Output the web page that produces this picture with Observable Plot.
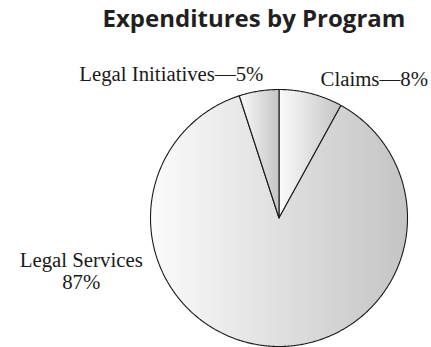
<!DOCTYPE html>
<html>
<head>
<meta charset="utf-8">
<script src="https://cdn.jsdelivr.net/npm/d3@7"></script>
<script src="https://cdn.jsdelivr.net/npm/@observablehq/plot@0.6"></script>
<style>
  html, body { margin: 0; padding: 0; background: #fff; }
  svg { display: block; }
</style>
</head>
<body>
<div id="chart"></div>
<script>
// ---- data ----
const categories = ["Claims", "Legal Services", "Legal Initiatives"];
const shares = [8, 87, 5];
const labelLines = [["Claims—8%"], ["Legal Services", "87%"], ["Legal Initiatives—5%"]];
const titleText = "Expenditures by Program";

// ---- layout (unit = pie radius) ----
const W = 431, H = 347;
const cx = 278.5, cy = 217.5, R = 128.5;
const xDomain = [-cx / R, (W - cx) / R];
const yDomain = [-(H - cy) / R, cy / R];
// label anchor positions (baseline of last line) in pie-radius units
const labelPos = [
  {x: 0.323, y: 1.031, anchor: "start"},
  {x: -1.539, y: -0.551, anchor: "middle"},
  {x: -0.121, y: 1.070, anchor: "end"}
];
const titlePos = {x: -0.195, y: 1.4825};

const pie = d3.pie().sort(null).value(d => d)(shares);
const slicePts = [];
pie.forEach((p, i) => {
  const n = Math.max(4, Math.ceil((p.endAngle - p.startAngle) / (Math.PI / 360)));
  slicePts.push({k: categories[i], x: 0, y: 0});
  for (let j = 0; j <= n; j++) {
    const a = p.startAngle + (p.endAngle - p.startAngle) * j / n;
    slicePts.push({k: categories[i], x: Math.sin(a), y: Math.cos(a)});
  }
  slicePts.push({k: categories[i], x: 0, y: 0});
});

const labels = labelLines.map((lines, i) => ({text: lines.join("\n"), ...labelPos[i]}));

const labelStyle = {x: "x", y: "y", text: "text", lineAnchor: "bottom", fontFamily: "Liberation Serif", fontSize: 20.8, fill: "#1a1a1a", lineHeight: 1.06};

const chart = Plot.plot({
  width: W, height: H,
  margin: 0,
  x: {domain: xDomain, axis: null},
  y: {domain: yDomain, axis: null},
  marks: [
    Plot.line(slicePts, {x: "x", y: "y", z: "k", fill: "url(#sliceGrad)", stroke: "#1a1a1a", strokeWidth: 1.1, strokeLinejoin: "round"}),
    Plot.text(labels.filter(d => d.anchor === "start"), {...labelStyle, textAnchor: "start"}),
    Plot.text(labels.filter(d => d.anchor === "middle"), {...labelStyle, textAnchor: "middle"}),
    Plot.text(labels.filter(d => d.anchor === "end"), {...labelStyle, textAnchor: "end"}),
    Plot.text([titleText], {x: titlePos.x, y: titlePos.y, text: d => d, textAnchor: "middle", lineAnchor: "bottom", fontFamily: "Open Sans", fontWeight: "bold", fontSize: 24, fill: "#231f20"})
  ]
});

const defs = d3.select(chart).insert("defs", ":first-child");
const g = defs.append("linearGradient").attr("id", "sliceGrad").attr("x1", "0").attr("y1", "0").attr("x2", "1").attr("y2", "0");
g.append("stop").attr("offset", "0").attr("stop-color", "#fbfbfb");
g.append("stop").attr("offset", "1").attr("stop-color", "#c4c4c4");

document.getElementById("chart").appendChild(chart);
</script>
</body>
</html>
